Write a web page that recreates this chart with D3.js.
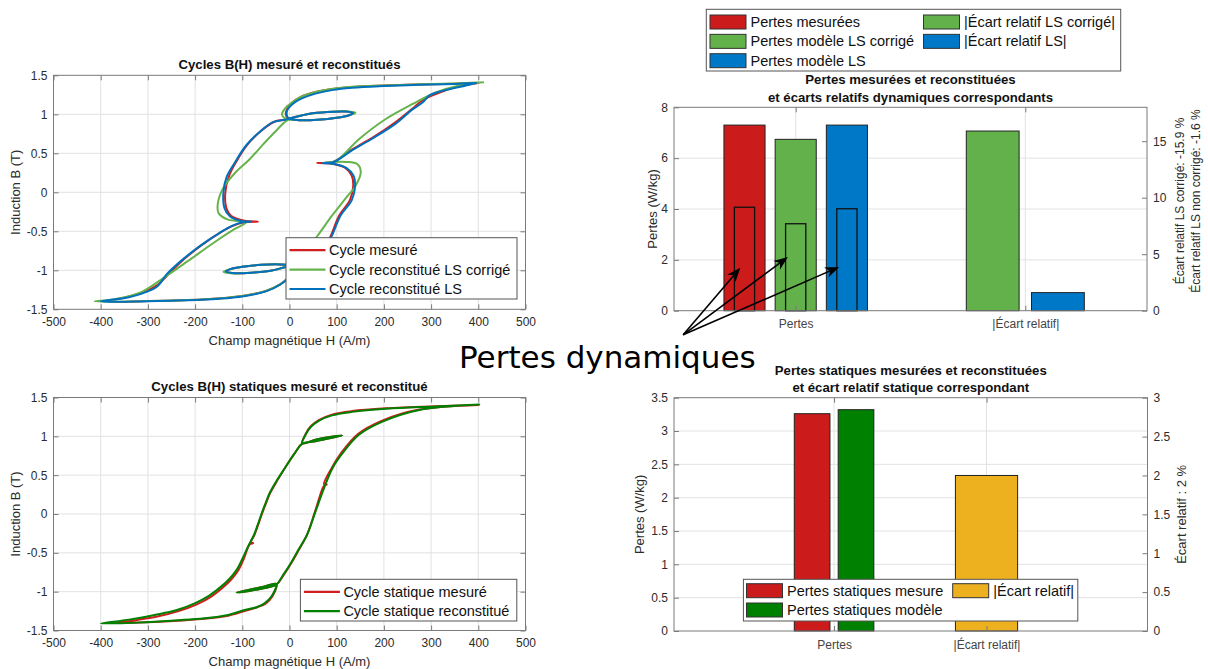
<!DOCTYPE html>
<html><head><meta charset="utf-8">
<script src="https://cdn.jsdelivr.net/npm/d3@7"></script>
<style>
body{margin:0;background:#fff;}
svg{display:block;font-family:"Liberation Sans",Arial,Helvetica,sans-serif;}
</style></head><body>
<svg id="c" width="1208" height="669"></svg>
<script>
// ---------------- DATA ----------------
const hTicks = [-500,-400,-300,-200,-100,0,100,200,300,400,500];
const bTicks = [-1.5,-1,-0.5,0,0.5,1,1.5];
const dynCycleLabels = ["Cycle mesuré","Cycle reconstitué LS corrigé","Cycle reconstitué LS"];
const statCycleLabels = ["Cycle statique mesuré","Cycle statique reconstitué"];

const cycleMesure = [[400,1.40],[350,1.392],[275,1.382],[200,1.368],[133,1.35],[90,1.325],[55,1.285],[25,1.225],[6,1.15],[-5,1.07],[-8,1.0],[-3,0.95],[20,0.925],[60,0.93],[100,0.955],[125,0.985],[135,1.015],[120,1.035],[80,1.03],[40,1.005],[12,0.965],[-10,0.93],[-32,0.905],[-60,0.79],[-88,0.62],[-113,0.39],[-128,0.21],[-136,0.0],[-134,-0.2],[-124,-0.3],[-95,-0.365],[-67,-0.376],[-95,-0.385],[-120,-0.43],[-145,-0.51],[-187,-0.68],[-222,-0.85],[-258,-1.06],[-280,-1.19],[-307,-1.27],[-340,-1.335],[-385,-1.40],
[-300,-1.395],[-215,-1.38],[-150,-1.36],[-100,-1.33],[-50,-1.265],[-20,-1.18],[-3,-1.10],[6,-1.03],[8,-1.0],[3,-0.95],[-20,-0.925],[-60,-0.93],[-100,-0.955],[-125,-0.985],[-135,-1.015],[-120,-1.035],[-80,-1.03],[-40,-1.005],[-12,-0.965],[10,-0.93],[32,-0.905],[60,-0.79],[84,-0.6],[105,-0.3],[128,-0.1],[135,0.08],[132,0.21],[119,0.31],[91,0.365],[59,0.376],[91,0.385],[133,0.55],[176,0.70],[225,0.90],[260,1.07],[282,1.18],[310,1.26],[352,1.35],[400,1.40]];

const cycleLSCorrige = [[410,1.41],[350,1.396],[275,1.385],[200,1.37],[133,1.352],[90,1.325],[55,1.285],[25,1.225],[5,1.15],[-10,1.07],[-16,1.0],[-10,0.95],[20,0.925],[60,0.93],[100,0.955],[125,0.985],[140,1.02],[120,1.04],[80,1.03],[40,1.005],[12,0.965],[-6,0.92],[-30,0.78],[-55,0.62],[-85,0.42],[-115,0.25],[-140,0.06],[-152,-0.15],[-150,-0.27],[-130,-0.35],[-92,-0.385],[-116,-0.47],[-159,-0.64],[-215,-0.88],[-265,-1.09],[-314,-1.28],[-370,-1.37],[-413,-1.40],
[-300,-1.395],[-215,-1.38],[-150,-1.36],[-100,-1.33],[-50,-1.265],[-20,-1.18],[-3,-1.10],[8,-1.03],[14,-0.98],[8,-0.94],[-20,-0.925],[-60,-0.93],[-100,-0.955],[-125,-0.985],[-140,-1.02],[-120,-1.04],[-80,-1.03],[-40,-1.005],[-12,-0.965],[6,-0.92],[30,-0.78],[59,-0.56],[90,-0.3],[118,-0.085],[140,0.085],[151,0.26],[144,0.36],[119,0.39],[76,0.385],[98,0.40],[147,0.68],[204,0.94],[260,1.13],[310,1.28],[360,1.37],[410,1.41]];

const cycleLS = [[395,1.40],[350,1.39],[275,1.378],[200,1.362],[133,1.34],[90,1.31],[55,1.265],[25,1.2],[6,1.13],[-4,1.06],[-6,1.0],[-2,0.95],[20,0.925],[60,0.93],[100,0.955],[125,0.985],[135,1.015],[120,1.035],[80,1.03],[40,1.005],[12,0.965],[-10,0.93],[-35,0.9],[-62,0.78],[-92,0.6],[-116,0.38],[-133,0.2],[-140,0.0],[-138,-0.2],[-126,-0.31],[-100,-0.37],[-81,-0.376],[-100,-0.385],[-122,-0.43],[-148,-0.52],[-190,-0.69],[-226,-0.86],[-260,-1.05],[-279,-1.2],[-300,-1.27],[-340,-1.345],[-400,-1.40],
[-300,-1.398],[-215,-1.385],[-150,-1.365],[-100,-1.335],[-50,-1.27],[-20,-1.185],[-3,-1.10],[6,-1.03],[8,-1.0],[3,-0.95],[-20,-0.925],[-60,-0.93],[-100,-0.955],[-125,-0.985],[-135,-1.015],[-120,-1.035],[-80,-1.03],[-40,-1.005],[-12,-0.965],[10,-0.93],[35,-0.9],[62,-0.78],[86,-0.6],[108,-0.3],[132,-0.1],[139,0.08],[136,0.21],[121,0.31],[92,0.365],[69,0.376],[92,0.385],[133,0.54],[176,0.69],[225,0.88],[260,1.06],[282,1.15],[296,1.24],[324,1.30],[374,1.37],[395,1.40]];

const cycleStatMesure = [[400,1.405],[310,1.388],[204,1.36],[133,1.325],[90,1.28],[62,1.21],[45,1.13],[35,1.04],[27,0.91],[55,0.955],[85,0.99],[112,1.012],[85,0.975],[55,0.935],[27,0.905],[12,0.79],[-10,0.59],[-24,0.45],[-41,0.27],[-51,0.12],[-59,-0.01],[-67,-0.15],[-75,-0.28],[-82,-0.36],[-77,-0.375],[-84,-0.39],[-97,-0.58],[-108,-0.72],[-123,-0.84],[-140,-0.94],[-165,-1.06],[-195,-1.16],[-235,-1.25],[-280,-1.32],[-330,-1.37],[-365,-1.40],
[-286,-1.39],[-180,-1.35],[-130,-1.31],[-95,-1.25],[-68,-1.2],[-50,-1.15],[-36,-1.06],[-28,-0.9],[-55,-0.935],[-85,-0.975],[-112,-1.012],[-85,-0.99],[-55,-0.955],[-28,-0.91],[-13,-0.79],[5,-0.62],[19,-0.47],[37,-0.27],[54,0.03],[70,0.33],[74,0.37],[79,0.38],[73,0.385],[90,0.6],[110,0.79],[145,1.03],[195,1.2],[275,1.345],[400,1.405]];

const cycleStatModele = [[402,1.41],[310,1.385],[204,1.355],[133,1.315],[90,1.27],[62,1.2],[45,1.12],[35,1.03],[27,0.91],[55,0.955],[85,0.99],[112,1.012],[85,0.975],[55,0.935],[27,0.905],[12,0.79],[-10,0.59],[-25,0.45],[-42,0.27],[-52,0.12],[-60,-0.01],[-68,-0.15],[-76,-0.28],[-88,-0.42],[-100,-0.58],[-112,-0.72],[-128,-0.84],[-145,-0.935],[-170,-1.05],[-201,-1.15],[-240,-1.24],[-286,-1.30],[-340,-1.36],[-400,-1.41],
[-286,-1.386],[-180,-1.343],[-130,-1.3],[-95,-1.236],[-70,-1.2],[-53,-1.15],[-38,-1.06],[-28,-0.9],[-55,-0.935],[-85,-0.975],[-112,-1.012],[-85,-0.99],[-55,-0.955],[-28,-0.91],[-14,-0.79],[4,-0.62],[18,-0.47],[37,-0.27],[55,0.03],[73,0.33],[91,0.59],[112,0.78],[147,1.02],[197,1.19],[275,1.34],[402,1.41]];

const barCategories = ["Pertes","|Écart relatif|"];
const dynPertesLabels = ["Pertes mesurées","Pertes modèle LS corrigé","Pertes modèle LS"];
const dynPertes = [7.30, 6.74, 7.30];
const dynPertesInner = [4.07, 3.42, 4.01];
const dynEcartLabels = ["|Écart relatif LS corrigé|","|Écart relatif LS|"];
const dynEcarts = [15.9, 1.6];
const dynLeftTicks = [0,2,4,6,8];
const dynRightTicks = [0,5,10,15];
const dynRightLabels = ["Écart relatif LS corrigé: -15.9 %","Écart relatif LS non corrigé: -1.6 %"];
const arrowStart = [0.51, -0.95];
const arrowTips = [[0.759,1.69],[0.966,2.11],[1.189,1.72]];

const statPertesLabels = ["Pertes statiques mesure","Pertes statiques modèle"];
const statPertes = [3.26, 3.32];
const statEcartLabels = ["|Écart relatif|"];
const statEcart = [2.0];
const statLeftTicks = [0,0.5,1,1.5,2,2.5,3,3.5];
const statRightTicks = [0,0.5,1,1.5,2,2.5,3];
const statRightLabel = "Écart relatif : 2 %";

// ---------------- STYLE ----------------
const GRID = "#e2e2e2", AXC = "#7a7a7a", TXT = "#2b2b2b";
const C_RED = "#d01f1f", C_GREEN = "#66b34c", C_BLUE = "#0072bd", C_DGREEN = "#008000", C_YEL = "#edb120";
const BAR_RED = "#cc1b1b", BAR_GREEN = "#62b14a", BAR_BLUE = "#0078c8";

const svg = d3.select("#c");
svg.append("rect").attr("width",1208).attr("height",669).attr("fill","#fff");

function styleAxis(sel, fs) {
  sel.select(".domain").remove();
  sel.selectAll(".tick line").attr("stroke", AXC);
  sel.selectAll(".tick text").attr("fill", TXT).attr("font-size", fs || 12).attr("font-family","Liberation Sans, Arial, sans-serif");
}

function rotText(g, x, y, txt, fs) {
  g.append("text").attr("transform", `translate(${x},${y}) rotate(-90)`)
    .attr("text-anchor","middle").attr("dominant-baseline","central")
    .attr("font-size", fs).attr("fill", TXT).text(txt);
}

function cycleChart(box, title, series, labels, leg) {
  const g = svg.append("g");
  const x = d3.scaleLinear().domain([-500,500]).range([box.l, box.r]);
  const y = d3.scaleLinear().domain([-1.5,1.5]).range([box.b, box.t]);
  g.append("g").selectAll("line").data(hTicks.slice(1,-1)).join("line")
    .attr("x1",d=>x(d)).attr("x2",d=>x(d)).attr("y1",box.t).attr("y2",box.b).attr("stroke",GRID);
  g.append("g").selectAll("line").data(bTicks.slice(1,-1)).join("line")
    .attr("y1",d=>y(d)).attr("y2",d=>y(d)).attr("x1",box.l).attr("x2",box.r).attr("stroke",GRID);
  const line = d3.line().x(d=>x(d[0])).y(d=>y(d[1])).curve(d3.curveCatmullRom.alpha(0.5));
  series.forEach(s => g.append("path").datum(s.data).attr("d", line).attr("fill","none")
    .attr("stroke", s.color).attr("stroke-width", 2).attr("stroke-linejoin","round").attr("stroke-linecap","round"));
  const fmt = d => String(d);
  g.append("g").attr("transform",`translate(0,${box.b})`)
    .call(d3.axisBottom(x).tickValues(hTicks).tickSizeInner(-5).tickSizeOuter(0).tickPadding(8).tickFormat(fmt)).call(styleAxis);
  g.append("g").attr("transform",`translate(0,${box.t})`)
    .call(d3.axisTop(x).tickValues(hTicks).tickSizeInner(-5).tickSizeOuter(0).tickFormat("")).call(styleAxis);
  g.append("g").attr("transform",`translate(${box.l},0)`)
    .call(d3.axisLeft(y).tickValues(bTicks).tickSizeInner(-5).tickSizeOuter(0).tickPadding(6).tickFormat(fmt)).call(styleAxis);
  g.append("g").attr("transform",`translate(${box.r},0)`)
    .call(d3.axisRight(y).tickValues(bTicks).tickSizeInner(-5).tickSizeOuter(0).tickFormat("")).call(styleAxis);
  g.append("rect").attr("x",box.l).attr("y",box.t).attr("width",box.r-box.l).attr("height",box.b-box.t)
    .attr("fill","none").attr("stroke",AXC);
  g.append("text").attr("x",(box.l+box.r)/2).attr("y",box.t-11).attr("text-anchor","middle")
    .attr("dominant-baseline","central").attr("font-weight","bold").attr("font-size",13.2).attr("fill","#111").text(title);
  g.append("text").attr("x",(box.l+box.r)/2).attr("y",box.b+31).attr("text-anchor","middle")
    .attr("dominant-baseline","central").attr("font-size",13).attr("fill",TXT).text("Champ magnétique H (A/m)");
  rotText(g, 15.5, (box.t+box.b)/2, "Induction B (T)", 13);
  // legend
  g.append("rect").attr("x",leg.x).attr("y",leg.y).attr("width",leg.w).attr("height",leg.h)
    .attr("fill","#fff").attr("stroke","#555");
  labels.forEach((lab,i) => {
    const yy = leg.y + 12.5 + i*19.4;
    g.append("line").attr("x1",leg.x+3.5).attr("x2",leg.x+39.5).attr("y1",yy).attr("y2",yy)
      .attr("stroke",series[i].color).attr("stroke-width",2.2);
    g.append("text").attr("x",leg.x+43).attr("y",yy).attr("dominant-baseline","central")
      .attr("font-size",14.5).attr("fill","#111").text(lab);
  });
}

cycleChart({l:53.5,r:525.5,t:75.3,b:309.3}, "Cycles B(H) mesuré et reconstitués",
  [{data:cycleMesure,color:C_RED},{data:cycleLSCorrige,color:C_GREEN},{data:cycleLS,color:C_BLUE}],
  dynCycleLabels, {x:286,y:237.7,w:231,h:61.3});
cycleChart({l:53.5,r:525.5,t:397.5,b:630.5}, "Cycles B(H) statiques mesuré et reconstitué",
  [{data:cycleStatMesure,color:C_RED},{data:cycleStatModele,color:C_DGREEN}],
  statCycleLabels, {x:300.4,y:579.3,w:216.4,h:41.7});

// ---------------- BAR CHARTS ----------------
function barFrame(box, xdom, yL, yR, leftTicks, rightTicks, titleLines) {
  const g = svg.append("g");
  const x = d3.scaleLinear().domain(xdom).range([box.l, box.r]);
  const yl = d3.scaleLinear().domain(yL).range([box.b, box.t]);
  const yr = d3.scaleLinear().domain(yR).range([box.b, box.t]);
  const cats = barCategories.map((c,i)=>i+1);
  g.append("g").selectAll("line").data(cats).join("line")
    .attr("x1",d=>x(d)).attr("x2",d=>x(d)).attr("y1",box.t).attr("y2",box.b).attr("stroke",GRID);
  g.append("g").selectAll("line").data(leftTicks.filter(v => v > yL[0] && v < yL[1])).join("line")
    .attr("y1",d=>yl(d)).attr("y2",d=>yl(d)).attr("x1",box.l).attr("x2",box.r).attr("stroke",GRID);
  titleLines.forEach((t,i)=> g.append("text").attr("x",(box.l+box.r)/2).attr("y",box.t - 27.5 + i*17.5)
    .attr("text-anchor","middle").attr("dominant-baseline","central").attr("font-weight","bold")
    .attr("font-size",13.2).attr("fill","#111").text(t));
  return {g, x, yl, yr, cats};
}
function barAxes(F, box, leftTicks, rightTicks, tfmt) {
  const {g,x,yl,yr,cats} = F;
  const fa = g.append("g");
  fa.append("g").attr("transform",`translate(0,${box.b})`)
    .call(d3.axisBottom(x).tickValues(cats).tickSizeInner(-5).tickSizeOuter(0).tickPadding(9).tickFormat((d,i)=>barCategories[i])).call(styleAxis);
  fa.selectAll("text").attr("fill","#444");
  g.append("g").attr("transform",`translate(0,${box.t})`)
    .call(d3.axisTop(x).tickValues(cats).tickSizeInner(-5).tickSizeOuter(0).tickFormat("")).call(styleAxis);
  g.append("g").attr("transform",`translate(${box.l},0)`)
    .call(d3.axisLeft(yl).tickValues(leftTicks).tickSizeInner(-5).tickSizeOuter(0).tickPadding(6).tickFormat(tfmt)).call(styleAxis);
  g.append("g").attr("transform",`translate(${box.r},0)`)
    .call(d3.axisRight(yr).tickValues(rightTicks).tickSizeInner(-5).tickSizeOuter(0).tickPadding(6).tickFormat(tfmt)).call(styleAxis);
  g.append("rect").attr("x",box.l).attr("y",box.t).attr("width",box.r-box.l).attr("height",box.b-box.t)
    .attr("fill","none").attr("stroke",AXC);
}
function bar(g, x, y, xc, w, v, fill, stroke, sw) {
  g.append("rect").attr("x", x(xc - w/2)).attr("width", x(xc + w/2) - x(xc - w/2))
    .attr("y", y(v)).attr("height", y(0) - y(v))
    .attr("fill", fill).attr("stroke", stroke).attr("stroke-width", sw || 1);
}
function legendPatch(g, px, yy, color, label) {
  g.append("rect").attr("x",px).attr("y",yy-7).attr("width",36).attr("height",14)
    .attr("fill",color).attr("stroke","#333");
  g.append("text").attr("x",px+40.5).attr("y",yy).attr("dominant-baseline","central")
    .attr("font-size",14.5).attr("fill","#111").text(label);
}

// ---- dynamic losses chart ----
{
  const box = {l:674, r:1147, t:107.3, b:310.7};
  const F = barFrame(box, [0.47,2.53], [0,8], [0,18], dynLeftTicks, dynRightTicks,
    ["Pertes mesurées et reconstituées","et écarts relatifs dynamiques correspondants"]);
  const {g,x,yl,yr} = F;
  const cols = [BAR_RED, BAR_GREEN, BAR_BLUE];
  dynPertes.forEach((v,i)=> bar(g, x, yl, 1 + (i-1)*0.223, 0.179, v, cols[i], "#222"));
  dynPertesInner.forEach((v,i)=> bar(g, x, yl, 1 + (i-1)*0.223, 0.088, v, "none", "#111", 1.3));
  const cols2 = [BAR_GREEN, BAR_BLUE];
  dynEcarts.forEach((v,i)=> bar(g, x, yr, 2 + (i-0.5)*0.284, 0.23, v, cols2[i], "#222"));
  barAxes(F, box, dynLeftTicks, dynRightTicks, d=>String(d));
  rotText(g, 652.5, (box.t+box.b)/2, "Pertes (W/kg)", 13);
  dynRightLabels.forEach((t,i)=> rotText(g, 1180 + i*16, 201, t, 12));
  // legend
  g.append("rect").attr("x",706.3).attr("y",9.3).attr("width",414.4).attr("height",61.7).attr("fill","#fff").attr("stroke","#555");
  dynPertesLabels.forEach((lab,i)=> legendPatch(g, 710, 22 + i*19.35, cols[i], lab));
  dynEcartLabels.forEach((lab,i)=> legendPatch(g, 923.5, 22 + i*19.35, cols2[i], lab));
  // arrows
  const sx = x(arrowStart[0]), sy = yl(arrowStart[1]);
  arrowTips.forEach(tp => {
    const tx = x(tp[0]), ty = yl(tp[1]);
    const dx = tx - sx, dy = ty - sy, L = Math.hypot(dx,dy), ux = dx/L, uy = dy/L;
    const hl = 14, hw = 5.5;
    const bx = tx - ux*hl, by = ty - uy*hl;
    g.append("line").attr("x1",sx).attr("y1",sy).attr("x2",tx - ux*hl*0.7).attr("y2",ty - uy*hl*0.7)
      .attr("stroke","#000").attr("stroke-width",1.6);
    const pts = [[tx,ty],[bx - uy*hw, by + ux*hw],[tx - ux*hl*0.7, ty - uy*hl*0.7],[bx + uy*hw, by - ux*hw]];
    g.append("polygon").attr("points", pts.map(p=>p.join(",")).join(" ")).attr("fill","#000");
  });
}

// ---- static losses chart ----
{
  const box = {l:674, r:1147.5, t:397.7, b:631};
  const F = barFrame(box, [-0.05,3.056], [0,3.5], [0,3], statLeftTicks, statRightTicks,
    ["Pertes statiques mesurées et reconstituées","et écart relatif statique correspondant"]);
  const {g,x,yl,yr} = F;
  const cols = [BAR_RED, C_DGREEN];
  statPertes.forEach((v,i)=> bar(g, x, yl, 1 + (i-0.5)*0.288, 0.234, v, cols[i], "#222"));
  statEcart.forEach((v,i)=> bar(g, x, yr, 2, 0.408, v, C_YEL, "#222"));
  barAxes(F, box, statLeftTicks, statRightTicks, d=>String(d));
  rotText(g, 639, (box.t+box.b)/2, "Pertes (W/kg)", 13);
  rotText(g, 1181, (box.t+box.b)/2, statRightLabel, 13);
  g.append("rect").attr("x",743.4).attr("y",579.3).attr("width",334.4).attr("height",41.7).attr("fill","#fff").attr("stroke","#555");
  statPertesLabels.forEach((lab,i)=> legendPatch(g, 746.5, 590.7 + i*19.3, cols[i], lab));
  statEcartLabels.forEach((lab,i)=> legendPatch(g, 952.7, 590.7 + i*19.3, C_YEL, lab));
}

// ---- annotation text ----
svg.append("text").attr("x",459).attr("y",368).attr("font-family","DejaVu Sans, Verdana, sans-serif")
  .attr("font-size",31).attr("fill","#000").text("Pertes dynamiques");
</script>
</body></html>
